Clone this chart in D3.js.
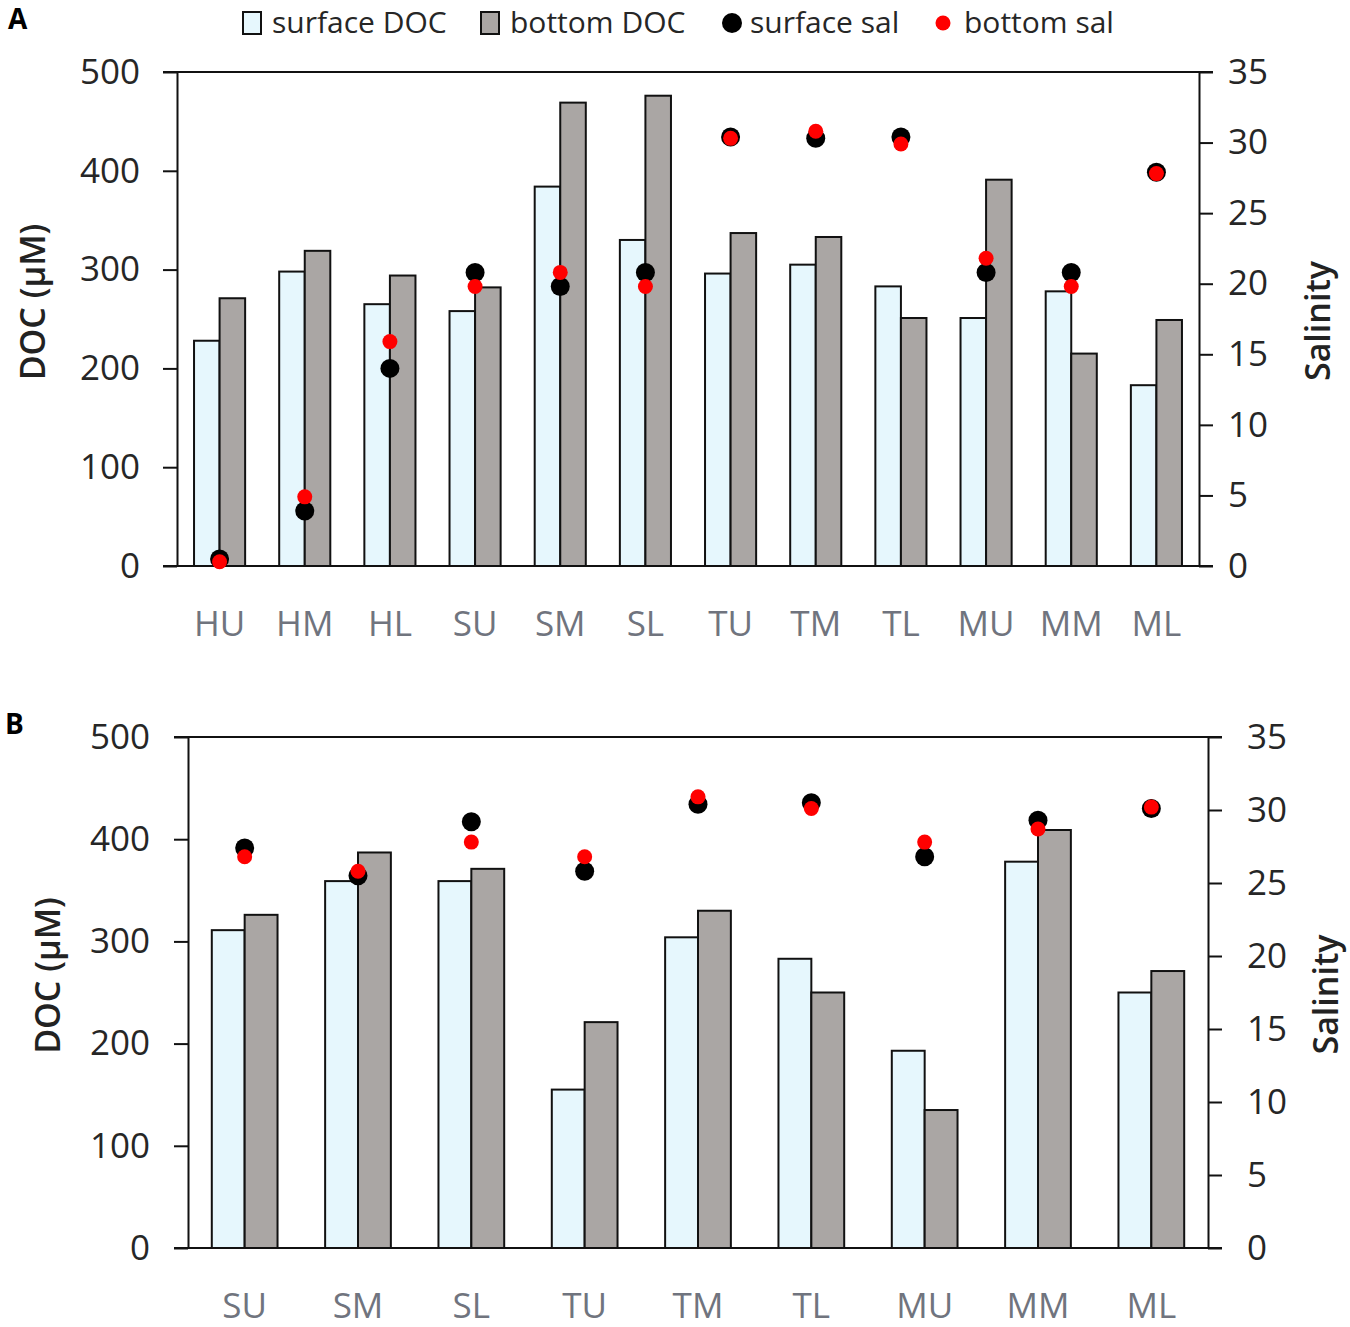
<!DOCTYPE html>
<html>
<head>
<meta charset="utf-8">
<script src="https://cdn.jsdelivr.net/npm/d3@7"></script>
<style>
    body { margin: 0; background: #fff; }
    svg text { font-family: "Open Sans", sans-serif; }
</style>
</head>
<body>
<svg id="chart" width="1350" height="1327"></svg>
<script>
// Panel A data
const sitesA = ['HU', 'HM', 'HL', 'SU', 'SM', 'SL', 'TU', 'TM', 'TL', 'MU', 'MM', 'ML'];
const surfaceDocA = [228, 298, 265, 258, 384, 330, 296, 305, 283, 251, 278, 183];
const bottomDocA = [271, 319, 294, 282, 469, 476, 337, 333, 251, 391, 215, 249];
const surfaceSalA = [0.5, 3.9, 14.0, 20.8, 19.8, 20.8, 30.4, 30.3, 30.4, 20.8, 20.8, 27.9];
const bottomSalA = [0.3, 4.9, 15.9, 19.8, 20.8, 19.8, 30.3, 30.8, 29.9, 21.8, 19.8, 27.8];

// Panel B data
const sitesB = ['SU', 'SM', 'SL', 'TU', 'TM', 'TL', 'MU', 'MM', 'ML'];
const surfaceDocB = [311, 359, 359, 155, 304, 283, 193, 378, 250];
const bottomDocB = [326, 387, 371, 221, 330, 250, 135, 409, 271];
const surfaceSalB = [27.4, 25.5, 29.2, 25.8, 30.4, 30.5, 26.8, 29.3, 30.1];
const bottomSalB = [26.8, 25.8, 27.8, 26.8, 30.9, 30.1, 27.8, 28.7, 30.2];

const docTicks = [0, 100, 200, 300, 400, 500];
const salTicks = [0, 5, 10, 15, 20, 25, 30, 35];
const legendItems = ['surface DOC', 'bottom DOC', 'surface sal', 'bottom sal'];

const SURFACE_FILL = '#e6f7fd';
const BOTTOM_FILL = '#aaa6a4';

const svg = d3.select('#chart');

function draw_panel(cfg) {
    const g = svg.append('g');
    const {left, right, top, bottom} = cfg;

    const x = d3.scaleBand().domain(cfg.sites).range([left, right])
        .paddingInner(cfg.pad).paddingOuter(cfg.pad / 2);
    const x1 = d3.scaleBand().domain(['surface', 'bottom']).range([0, x.bandwidth()]);
    const yDoc = d3.scaleLinear().domain([0, 500]).range([bottom, top]);
    const ySal = d3.scaleLinear().domain([0, 35]).range([bottom, top]);

    const rows = cfg.sites.map((s, i) => ({
        site: s,
        surface: cfg.surfaceDoc[i], bottom: cfg.bottomDoc[i],
        sSal: cfg.surfaceSal[i], bSal: cfg.bottomSal[i]
    }));

    // bars
    const groups = g.selectAll('g.site').data(rows).enter().append('g')
        .attr('transform', d => `translate(${x(d.site)},0)`);
    groups.append('rect')
        .attr('x', x1('surface')).attr('width', x1.bandwidth())
        .attr('y', d => yDoc(d.surface)).attr('height', d => yDoc(0) - yDoc(d.surface))
        .attr('fill', SURFACE_FILL).attr('stroke', '#111').attr('stroke-width', 2);
    groups.append('rect')
        .attr('x', x1('bottom')).attr('width', x1.bandwidth())
        .attr('y', d => yDoc(d.bottom)).attr('height', d => yDoc(0) - yDoc(d.bottom))
        .attr('fill', BOTTOM_FILL).attr('stroke', '#111').attr('stroke-width', 2);

    // left axis
    const axL = g.append('g').attr('transform', `translate(${left},0)`)
        .call(d3.axisLeft(yDoc).tickValues(docTicks).tickSize(14).tickSizeOuter(0).tickPadding(cfg.padL));
    // right axis
    const axR = g.append('g').attr('transform', `translate(${right},0)`)
        .call(d3.axisRight(ySal).tickValues(salTicks).tickSize(14).tickSizeOuter(0).tickPadding(cfg.padR));
    [axL, axR].forEach(ax => {
        ax.select('.domain').attr('stroke', '#111').attr('stroke-width', 2);
        ax.selectAll('.tick line').attr('stroke', '#111').attr('stroke-width', 2);
        ax.selectAll('.tick text').attr('font-size', 35).attr('fill', '#262626')
            .attr('font-family', '"Open Sans", sans-serif');
    });

    // top and bottom frame lines
    [top, bottom].forEach(yy => {
        g.append('line').attr('x1', left - 14).attr('x2', right + 14)
            .attr('y1', yy).attr('y2', yy).attr('stroke', '#111').attr('stroke-width', 2);
    });

    // category labels
    g.selectAll('text.cat').data(cfg.sites).enter().append('text')
        .attr('x', d => x(d) + x.bandwidth() / 2).attr('y', bottom + 70)
        .attr('text-anchor', 'middle').attr('font-size', 35).attr('fill', '#70747e')
        .text(d => d);

    // salinity dots
    g.selectAll('circle.ssal').data(rows).enter().append('circle')
        .attr('cx', d => x(d.site) + x.bandwidth() / 2).attr('cy', d => ySal(d.sSal))
        .attr('r', 9.5).attr('fill', '#000');
    g.selectAll('circle.bsal').data(rows).enter().append('circle')
        .attr('cx', d => x(d.site) + x.bandwidth() / 2).attr('cy', d => ySal(d.bSal))
        .attr('r', 7.5).attr('fill', '#f00');

    // axis titles
    g.append('text')
        .attr('transform', `translate(${cfg.docTitleX},${(top + bottom) / 2 - 17}) rotate(-90)`)
        .attr('text-anchor', 'middle').attr('font-size', 34).attr('font-weight', 600)
        .attr('fill', '#222').text('DOC (µM)');
    g.append('text')
        .attr('transform', `translate(${cfg.salTitleX},${(top + bottom) / 2 + 2}) rotate(-90)`)
        .attr('text-anchor', 'middle').attr('font-size', 34).attr('font-weight', 600)
        .attr('fill', '#222').text('Salinity');

    // panel letter
    g.append('text').attr('x', cfg.letterX).attr('y', cfg.letterY)
        .attr('font-family', '"Liberation Sans", Arial, sans-serif')
        .attr('font-size', 28).attr('font-weight', 'bold').attr('fill', '#000').text(cfg.letter);
}

draw_panel({
    sites: sitesA, surfaceDoc: surfaceDocA, bottomDoc: bottomDocA,
    surfaceSal: surfaceSalA, bottomSal: bottomSalA,
    left: 177, right: 1199, top: 72, bottom: 566, pad: 0.4,
    padL: 23, padR: 15, docTitleX: 45, salTitleX: 1330,
    letter: 'A', letterX: 8, letterY: 29
});

draw_panel({
    sites: sitesB, surfaceDoc: surfaceDocB, bottomDoc: bottomDocB,
    surfaceSal: surfaceSalB, bottomSal: bottomSalB,
    left: 188, right: 1208, top: 737, bottom: 1248, pad: 0.42,
    padL: 24, padR: 25, docTitleX: 60, salTitleX: 1338,
    letter: 'B', letterX: 5, letterY: 734
});

// legend
const legendX = [243, 481, 732, 943];
const legend = svg.append('g');
legendItems.forEach((name, i) => {
    if (i === 0 || i === 1) {
        legend.append('rect').attr('x', legendX[i]).attr('y', 12).attr('width', 18).attr('height', 22)
            .attr('fill', i === 0 ? SURFACE_FILL : BOTTOM_FILL).attr('stroke', '#111').attr('stroke-width', 2);
        legend.append('text').attr('x', legendX[i] + 29).attr('y', 33)
            .attr('font-size', 30).attr('fill', '#262626').text(name);
    } else {
        legend.append('circle').attr('cx', legendX[i]).attr('cy', 23)
            .attr('r', i === 2 ? 10 : 7.5).attr('fill', i === 2 ? '#000' : '#f00');
        legend.append('text').attr('x', legendX[i] + (i === 2 ? 18 : 21)).attr('y', 33)
            .attr('font-size', 30).attr('fill', '#262626').text(name);
    }
});
</script>
</body>
</html>
